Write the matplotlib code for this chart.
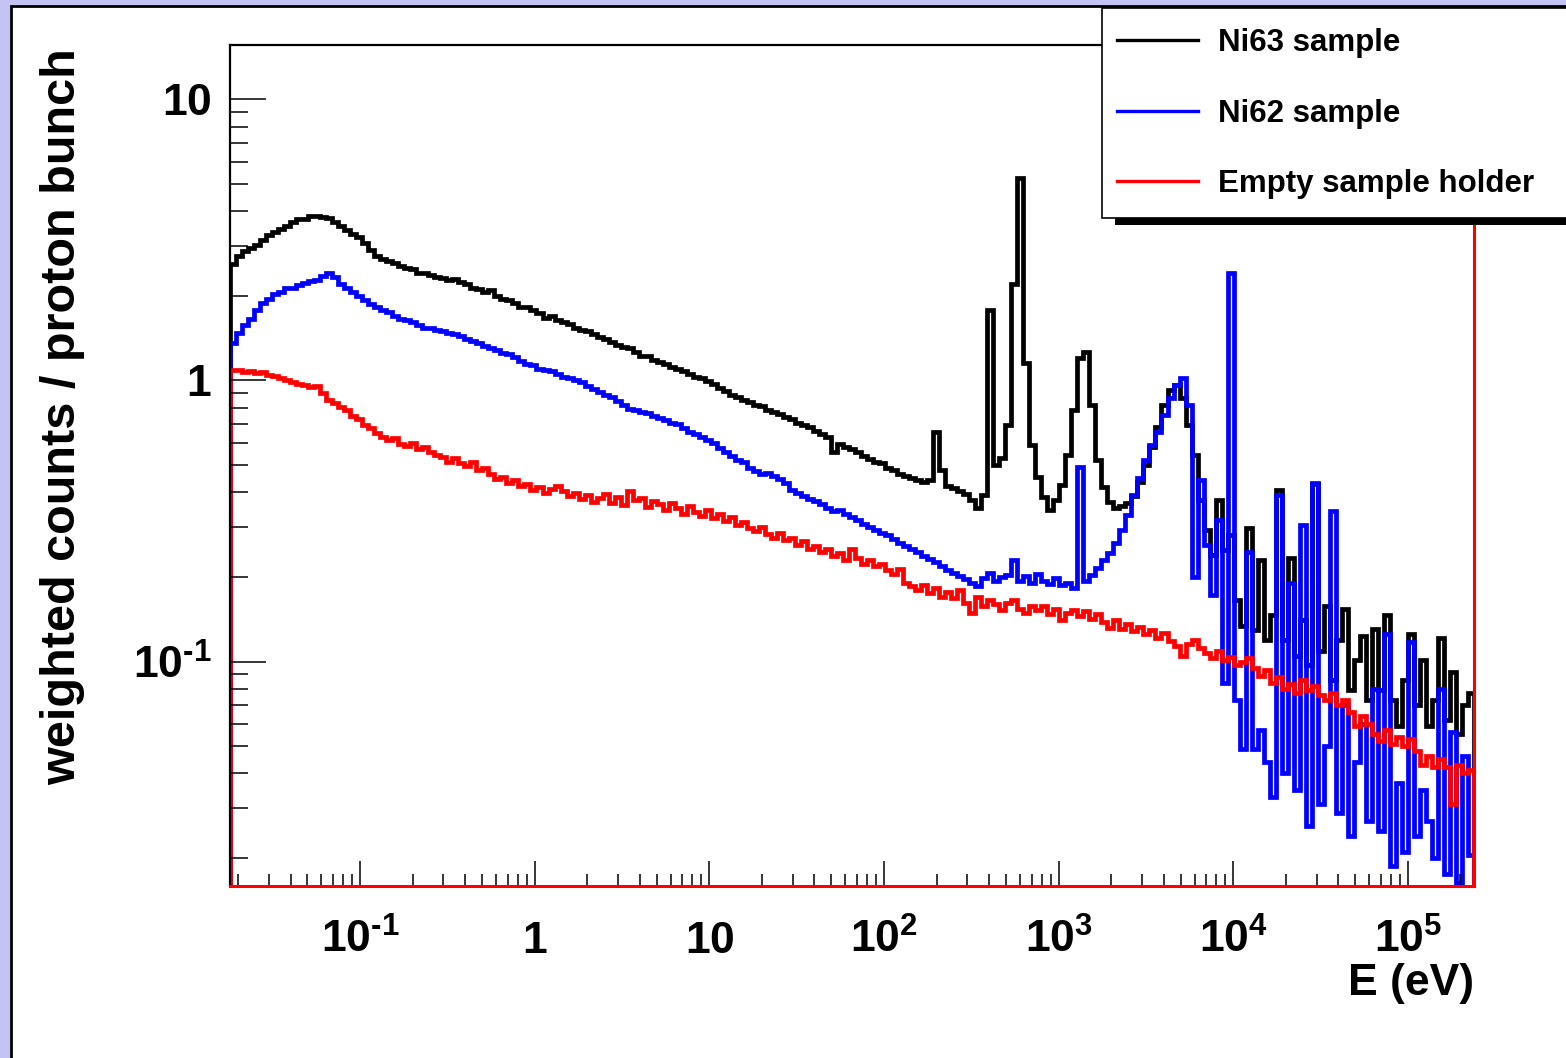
import numpy as np
import matplotlib.pyplot as plt
from matplotlib.patches import Rectangle
from matplotlib.ticker import LogLocator, NullFormatter

plt.rcParams['font.family'] = ['Liberation Sans', 'DejaVu Sans']
plt.rcParams['font.weight'] = 'bold'
plt.rcParams['mathtext.fontset'] = 'custom'
for k in ('rm', 'it', 'bf', 'sf'):
    plt.rcParams['mathtext.' + k] = 'Liberation Sans:bold'

# energy range covered by the histograms (eV), log-spaced bins
e_min, e_max = 0.018, 2.39e5

# weighted counts / proton bunch, one value per bin
ni63 = [2.59, 2.77, 2.88, 2.95, 3.04, 3.15, 3.28, 3.36, 3.47, 3.53,
        3.65, 3.74, 3.74, 3.84, 3.84, 3.81, 3.77, 3.65, 3.53, 3.42,
        3.31, 3.23, 3.07, 2.90, 2.77, 2.70, 2.65, 2.61, 2.55, 2.51,
        2.49, 2.42, 2.42, 2.38, 2.34, 2.32, 2.27, 2.29, 2.23, 2.20,
        2.14, 2.11, 2.06, 2.09, 1.99, 1.95, 1.93, 1.88, 1.83, 1.82,
        1.78, 1.74, 1.67, 1.69, 1.64, 1.61, 1.59, 1.54, 1.51, 1.50,
        1.46, 1.43, 1.40, 1.37, 1.34, 1.31, 1.30, 1.26, 1.22, 1.22,
        1.18, 1.16, 1.14, 1.12, 1.10, 1.076, 1.05, 1.025, 1.017, 0.992,
        0.968, 0.936, 0.914, 0.884, 0.870, 0.849, 0.835, 0.815, 0.808, 0.782,
        0.770, 0.757, 0.739, 0.727, 0.704, 0.692, 0.681, 0.659, 0.643, 0.627,
        0.555, 0.593, 0.579, 0.569, 0.555, 0.537, 0.524, 0.512, 0.508, 0.487,
        0.479, 0.464, 0.456, 0.449, 0.441, 0.434, 0.441, 0.653, 0.479, 0.420,
        0.414, 0.403, 0.393, 0.375, 0.351, 0.390, 1.78, 0.499, 0.528, 0.692,
        2.20, 5.23, 1.15, 0.588, 0.452, 0.384, 0.345, 0.375, 0.424, 0.541,
        0.782, 1.20, 1.26, 0.815, 0.520, 0.417, 0.369, 0.351, 0.357, 0.366,
        0.387, 0.434, 0.499, 0.579, 0.681, 0.815, 0.921, 0.960, 0.863, 0.692,
        0.541, 0.375, 0.293, 0.239, 0.375, 0.249, 0.281, 0.165, 0.134, 0.298,
        0.129, 0.229, 0.119, 0.146, 0.407, 0.119, 0.233, 0.105, 0.140, 0.097,
        0.427, 0.109, 0.158, 0.086, 0.119, 0.154, 0.079, 0.101, 0.123, 0.073,
        0.131, 0.079, 0.146, 0.073, 0.059, 0.086, 0.125, 0.070, 0.101, 0.059,
        0.073, 0.121, 0.062, 0.092, 0.055, 0.070, 0.077]

ni62 = [1.36, 1.47, 1.57, 1.66, 1.78, 1.88, 1.95, 2.03, 2.07, 2.13,
        2.14, 2.18, 2.22, 2.25, 2.27, 2.36, 2.42, 2.34, 2.20, 2.13,
        2.06, 1.99, 1.93, 1.87, 1.82, 1.78, 1.75, 1.69, 1.66, 1.64,
        1.61, 1.57, 1.54, 1.53, 1.51, 1.50, 1.48, 1.46, 1.44, 1.40,
        1.38, 1.36, 1.33, 1.30, 1.28, 1.25, 1.24, 1.21, 1.17, 1.14,
        1.13, 1.10, 1.085, 1.076, 1.05, 1.03, 1.017, 1.00, 0.984, 0.952,
        0.929, 0.906, 0.884, 0.870, 0.842, 0.815, 0.788, 0.782, 0.770, 0.764,
        0.745, 0.733, 0.721, 0.704, 0.698, 0.675, 0.653, 0.643, 0.627, 0.612,
        0.597, 0.573, 0.555, 0.537, 0.520, 0.512, 0.487, 0.475, 0.464, 0.468,
        0.456, 0.445, 0.431, 0.407, 0.397, 0.387, 0.378, 0.372, 0.363, 0.351,
        0.342, 0.345, 0.336, 0.326, 0.318, 0.308, 0.302, 0.293, 0.286, 0.281,
        0.272, 0.265, 0.257, 0.251, 0.245, 0.237, 0.231, 0.226, 0.218, 0.211,
        0.206, 0.201, 0.196, 0.190, 0.185, 0.198, 0.207, 0.194, 0.199, 0.203,
        0.229, 0.194, 0.201, 0.191, 0.204, 0.194, 0.188, 0.198, 0.187, 0.190,
        0.182, 0.491, 0.194, 0.203, 0.215, 0.229, 0.243, 0.263, 0.293, 0.331,
        0.390, 0.449, 0.520, 0.588, 0.653, 0.751, 0.863, 0.960, 1.017, 0.815,
        0.199, 0.441, 0.259, 0.172, 0.320, 0.084, 2.42, 0.073, 0.049, 0.245,
        0.049, 0.057, 0.044, 0.033, 0.390, 0.040, 0.190, 0.035, 0.305, 0.026,
        0.431, 0.031, 0.050, 0.342, 0.029, 0.070, 0.024, 0.044, 0.060, 0.027,
        0.080, 0.025, 0.125, 0.0187, 0.037, 0.021, 0.117, 0.024, 0.035, 0.027,
        0.020, 0.080, 0.0175, 0.056, 0.0163, 0.046, 0.0205]

empty = [1.085, 1.09, 1.067, 1.076, 1.06, 1.067, 1.042, 1.033, 1.017, 1.00,
         0.984, 0.968, 0.960, 0.944, 0.952, 0.899, 0.849, 0.828, 0.802, 0.782,
         0.745, 0.727, 0.692, 0.675, 0.648, 0.627, 0.612, 0.622, 0.593, 0.583,
         0.597, 0.569, 0.579, 0.555, 0.541, 0.533, 0.512, 0.528, 0.508, 0.495,
         0.512, 0.479, 0.487, 0.464, 0.445, 0.452, 0.431, 0.441, 0.420, 0.427,
         0.407, 0.417, 0.397, 0.410, 0.420, 0.403, 0.387, 0.397, 0.378, 0.390,
         0.369, 0.381, 0.393, 0.366, 0.384, 0.360, 0.403, 0.375, 0.381, 0.354,
         0.372, 0.363, 0.345, 0.366, 0.351, 0.334, 0.357, 0.339, 0.329, 0.345,
         0.323, 0.336, 0.315, 0.326, 0.305, 0.313, 0.298, 0.291, 0.302, 0.284,
         0.274, 0.286, 0.270, 0.276, 0.259, 0.268, 0.252, 0.257, 0.245, 0.251,
         0.237, 0.243, 0.229, 0.252, 0.233, 0.223, 0.229, 0.218, 0.223, 0.211,
         0.204, 0.213, 0.190, 0.185, 0.179, 0.187, 0.175, 0.182, 0.170, 0.176,
         0.168, 0.179, 0.161, 0.149, 0.169, 0.157, 0.165, 0.160, 0.153, 0.161,
         0.165, 0.154, 0.149, 0.158, 0.152, 0.157, 0.147, 0.154, 0.140, 0.149,
         0.153, 0.145, 0.151, 0.142, 0.147, 0.138, 0.132, 0.140, 0.131, 0.136,
         0.128, 0.133, 0.125, 0.129, 0.121, 0.126, 0.118, 0.114, 0.105, 0.115,
         0.119, 0.112, 0.107, 0.103, 0.109, 0.101, 0.104, 0.097, 0.100, 0.103,
         0.095, 0.089, 0.093, 0.084, 0.088, 0.080, 0.083, 0.077, 0.086, 0.079,
         0.082, 0.076, 0.073, 0.077, 0.070, 0.073, 0.066, 0.059, 0.064, 0.060,
         0.055, 0.052, 0.057, 0.051, 0.054, 0.050, 0.053, 0.048, 0.043, 0.046,
         0.042, 0.045, 0.042, 0.031, 0.043, 0.040, 0.041]

labels = ['Ni63 sample', 'Ni62 sample', 'Empty sample holder']
colors = ['black', 'blue', 'red']

x_ticks = [1e-1, 1, 10, 1e2, 1e3, 1e4, 1e5]
x_ticklabels = [r'$10^{\text{-1}}$', r'$1$', r'$10$', r'$10^{2}$', r'$10^{3}$', r'$10^{4}$', r'$10^{5}$']
y_ticks = [1e-1, 1, 10]
y_ticklabels = [r'$10^{\text{-1}}$', r'$1$', r'$10$']
y_lim = (0.0159, 15.6)

W, H = 1566, 1058
fig = plt.figure(figsize=(W / 100, H / 100), dpi=100, facecolor='#c3c4f3')
# white canvas with a black border on the slide background
fig.add_artist(Rectangle((11 / W, -0.05), 1.0, 1 - 6 / H + 0.05, facecolor='white',
                         edgecolor='black', lw=2, zorder=-1))

ax = fig.add_axes([230 / W, 1 - 886 / H, 1244 / W, 841 / H])

edges = np.geomspace(e_min, e_max, len(ni63) + 1)
for vals, c, lab in zip([ni63, ni62, empty], colors, labels):
    ax.stairs(vals, edges, baseline=1e-3, color=c, lw=3.4, label=lab)

ax.set_xscale('log')
ax.set_yscale('log')
ax.set_xlim(e_min, e_max)
ax.set_ylim(*y_lim)

ax.set_xticks(x_ticks, x_ticklabels)
ax.set_yticks(y_ticks, y_ticklabels)
ax.xaxis.set_minor_locator(LogLocator(base=10, subs=np.arange(2, 10), numticks=40))
ax.yaxis.set_minor_locator(LogLocator(base=10, subs=np.arange(2, 10), numticks=40))
ax.xaxis.set_minor_formatter(NullFormatter())
ax.yaxis.set_minor_formatter(NullFormatter())

ax.tick_params(axis='x', which='major', direction='in', length=18, width=1.1, pad=48, labelsize=32)
ax.tick_params(axis='x', which='minor', direction='in', length=9, width=1.1)
ax.tick_params(axis='y', which='major', direction='in', length=26, width=1.1, pad=13, labelsize=32)
ax.tick_params(axis='y', which='minor', direction='in', length=13, width=1.1)
for t in ax.get_xticklabels():
    t.set_va('baseline')

for side in ('left', 'top'):
    ax.spines[side].set_linewidth(1.6)
ax.spines['bottom'].set_color('red')
ax.spines['bottom'].set_linewidth(2.2)
ax.spines['right'].set_color('red')
ax.spines['right'].set_linewidth(2.2)

ax.text(1.0, -109 / 841, 'E (eV)', transform=ax.transAxes, ha='right', va='baseline',
        fontsize=32, fontweight='bold')
fig.text(63 / W, 1 - 417 / H, 'weighted counts / proton bunch', rotation=90,
         ha='center', va='center', fontsize=35, fontweight='bold')

# ROOT-like legend: box running off the right edge with a black shadow below
fig.add_artist(Rectangle((1115 / W, 1 - 225 / H), 600 / W, 14 / H, facecolor='black', zorder=4))
fig.add_artist(Rectangle((1102 / W, 1 - 218 / H), 600 / W, 210 / H, facecolor='white',
                         edgecolor='black', lw=1.2, zorder=4.5))
leg = fig.legend(loc='upper left', bbox_to_anchor=(1102 / W, 1 - 13 / H),
                 borderaxespad=0, fontsize=22.5, frameon=False, handlelength=2.6,
                 handletextpad=0.64, borderpad=0.48, labelspacing=1.3)
leg.set_zorder(5)
for line in leg.get_lines():
    line.set_linewidth(2.4)

fig.savefig('out.png', dpi=100, facecolor=fig.get_facecolor())
